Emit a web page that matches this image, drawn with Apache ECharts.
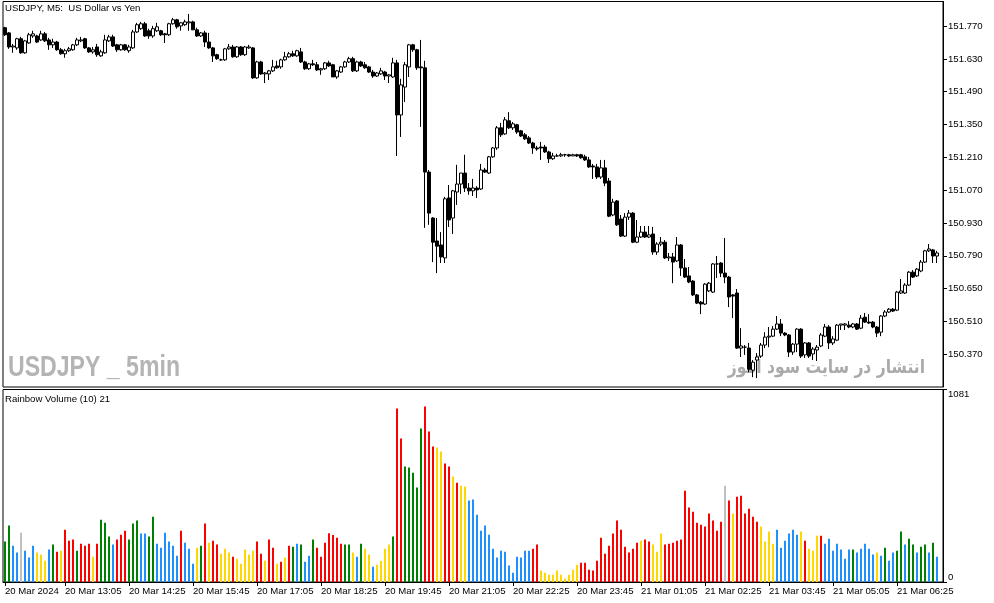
<!DOCTYPE html>
<html>
<head>
<meta charset="utf-8">
<script src="https://cdn.jsdelivr.net/npm/echarts@6/dist/echarts.min.js"></script>
<style>
html,body{margin:0;padding:0;background:#fff;}
#chart{width:994px;height:603px;}
</style>
</head>
<body>
<div id="chart"></div>
<script>
// ---------- DATA ----------
const chartTitle = 'USDJPY, M5:  US Dollar vs Yen';
const indicatorTitle = 'Rainbow Volume (10) 21';
const watermarkText = 'USDJPY _ 5min';
const siteText = 'انتشار در سایت سود آموز';
const startTime = [2024, 2, 20, 11, 50]; // first bar, 5-minute bars
const firstTickLabel = '20 Mar 2024';
const tickLabels = ['20 Mar 13:05','20 Mar 14:25','20 Mar 15:45','20 Mar 17:05','20 Mar 18:25',
  '20 Mar 19:45','20 Mar 21:05','20 Mar 22:25','20 Mar 23:45','21 Mar 01:05','21 Mar 02:25',
  '21 Mar 03:45','21 Mar 05:05','21 Mar 06:25'];

// candles: [open, close, low, high]
const candles = [
[151.763,151.733,151.728,151.767],[151.741,151.681,151.673,151.745],[151.681,151.685,151.656,151.694],
[151.677,151.716,151.669,151.720],[151.716,151.656,151.652,151.724],[151.656,151.707,151.652,151.711],
[151.698,151.733,151.694,151.741],[151.728,151.737,151.720,151.750],[151.728,151.702,151.698,151.733],
[151.711,151.737,151.707,151.750],[151.737,151.707,151.702,151.745],[151.711,151.690,151.669,151.720],
[151.690,151.702,151.677,151.716],[151.702,151.669,151.665,151.707],[151.669,151.652,151.648,151.677],
[151.652,151.665,151.635,151.673],[151.665,151.673,151.660,151.681],[151.669,151.690,151.665,151.694],
[151.690,151.711,151.685,151.720],[151.707,151.711,151.702,151.724],[151.716,151.677,151.673,151.720],
[151.677,151.660,151.656,151.681],[151.660,151.669,151.652,151.681],[151.681,151.648,151.639,151.694],
[151.643,151.660,151.639,151.669],[151.656,151.711,151.652,151.733],[151.707,151.724,151.702,151.733],
[151.724,151.685,151.681,151.733],[151.690,151.669,151.660,151.694],[151.669,151.690,151.665,151.694],
[151.690,151.669,151.665,151.694],[151.665,151.681,151.656,151.690],[151.677,151.745,151.673,151.754],
[151.745,151.776,151.741,151.784],[151.759,151.780,151.754,151.788],[151.780,151.728,151.724,151.788],
[151.750,151.728,151.716,151.759],[151.728,151.759,151.720,151.771],[151.750,151.767,151.745,151.784],
[151.750,151.733,151.728,151.754],[151.737,151.733,151.698,151.741],[151.733,151.780,151.728,151.784],
[151.780,151.797,151.776,151.805],[151.797,151.767,151.759,151.801],[151.771,151.784,151.750,151.788],
[151.776,151.788,151.771,151.797],[151.784,151.788,151.750,151.822],[151.788,151.754,151.754,151.793],
[151.754,151.728,151.724,151.763],[151.728,151.741,151.724,151.745],[151.741,151.702,151.681,151.750],
[151.702,151.677,151.673,151.741],[151.677,151.643,151.617,151.681],[151.648,151.631,151.626,151.652],
[151.626,151.626,151.622,151.631],[151.626,151.673,151.622,151.677],[151.673,151.681,151.669,151.694],
[151.681,151.639,151.635,151.690],[151.639,151.681,151.635,151.685],[151.681,151.648,151.643,151.685],
[151.648,151.681,151.643,151.685],[151.677,151.681,151.673,151.690],[151.677,151.549,151.545,151.681],
[151.549,151.617,151.545,151.622],[151.617,151.566,151.562,151.622],[151.566,151.570,151.527,151.574],
[151.566,151.579,151.540,151.583],[151.579,151.596,151.574,151.626],[151.600,151.592,151.588,151.622],
[151.596,151.626,151.588,151.631],[151.626,151.639,151.622,151.660],[151.639,151.652,151.635,151.660],
[151.652,151.643,151.639,151.665],[151.643,151.665,151.639,151.669],[151.660,151.617,151.613,151.677],
[151.617,151.588,151.583,151.622],[151.588,151.609,151.583,151.613],[151.609,151.605,151.600,151.626],
[151.605,151.583,151.579,151.617],[151.583,151.588,151.562,151.592],[151.588,151.613,151.583,151.617],
[151.613,151.600,151.596,151.622],[151.605,151.553,151.553,151.609],[151.553,151.579,151.545,151.583],
[151.574,151.596,151.570,151.600],[151.596,151.617,151.592,151.622],[151.617,151.631,151.613,151.639],
[151.631,151.579,151.574,151.639],[151.579,151.617,151.574,151.622],[151.617,151.600,151.596,151.622],
[151.605,151.592,151.588,151.617],[151.596,151.574,151.570,151.600],[151.574,151.557,151.549,151.583],
[151.557,151.570,151.553,151.574],[151.566,151.579,151.562,151.592],[151.574,151.557,151.540,151.579],
[151.557,151.562,151.527,151.566],[151.553,151.613,151.549,151.635],[151.613,151.391,151.216,151.626],
[151.391,151.519,151.297,151.545],[151.510,151.605,151.446,151.617],[151.596,151.690,151.553,151.694],
[151.690,151.669,151.660,151.694],[151.669,151.592,151.583,151.673],[151.596,151.592,151.340,151.711],
[151.592,151.147,150.909,151.622],[151.147,150.972,150.922,151.156],[150.951,150.848,150.763,150.955],
[150.853,150.831,150.716,150.951],[150.836,150.785,150.759,150.891],[150.781,151.033,150.759,151.041],
[151.037,150.943,150.913,151.092],[150.951,151.067,150.883,151.071],[151.062,151.096,151.007,151.178],
[151.096,151.143,151.054,151.143],[151.143,151.079,151.062,151.221],[151.079,151.067,151.050,151.100],
[151.067,151.079,151.045,151.118],[151.079,151.071,151.037,151.087],[151.075,151.156,151.071,151.182],
[151.156,151.147,151.143,151.165],[151.143,151.212,151.139,151.216],[151.212,151.250,151.208,151.254],
[151.250,151.336,151.242,151.344],[151.336,151.306,151.297,151.357],[151.310,151.370,151.306,151.382],
[151.366,151.336,151.331,151.403],[151.336,151.353,151.327,151.361],[151.349,151.318,151.310,151.353],
[151.323,151.301,151.297,151.327],[151.306,151.289,151.284,151.314],[151.293,151.271,151.267,151.301],
[151.271,151.250,151.225,151.276],[151.250,151.246,151.238,151.259],[151.254,151.250,151.199,151.276],
[151.254,151.233,151.229,151.263],[151.233,151.204,151.186,151.238],[151.204,151.216,151.199,151.229],
[151.216,151.216,151.212,151.225],[151.216,151.221,151.212,151.229],[151.221,151.221,151.212,151.225],
[151.221,151.216,151.212,151.225],[151.216,151.221,151.216,151.225],[151.221,151.216,151.212,151.225],
[151.221,151.208,151.204,151.225],[151.212,151.199,151.195,151.221],[151.199,151.169,151.165,151.212],
[151.173,151.169,151.118,151.182],[151.169,151.126,151.118,151.182],[151.126,151.165,151.118,151.199],
[151.165,151.100,151.087,151.199],[151.109,150.959,150.955,151.122],[150.964,151.019,150.959,151.033],
[151.024,150.922,150.917,151.028],[150.947,150.874,150.870,150.964],[150.874,150.955,150.870,150.972],
[150.955,150.972,150.943,150.985],[150.972,150.848,150.844,150.977],[150.848,150.870,150.844,150.943],
[150.870,150.891,150.866,150.917],[150.891,150.870,150.866,150.917],[150.870,150.879,150.866,150.917],
[150.883,150.806,150.794,150.913],[150.806,150.840,150.794,150.848],[150.840,150.848,150.831,150.870],
[150.848,150.781,150.776,150.857],[150.781,150.785,150.768,150.802],[150.785,150.763,150.673,150.802],
[150.768,150.836,150.763,150.870],[150.836,150.738,150.704,150.840],[150.738,150.699,150.695,150.776],
[150.704,150.678,150.673,150.742],[150.682,150.623,150.618,150.686],[150.623,150.588,150.584,150.627],
[150.592,150.584,150.541,150.597],[150.584,150.669,150.580,150.673],[150.640,150.673,150.635,150.678],
[150.635,150.755,150.631,150.759],[150.755,150.755,150.695,150.789],[150.759,150.716,150.699,150.763],
[150.716,150.699,150.673,150.866],[150.699,150.614,150.571,150.704],[150.623,150.618,150.524,150.627],
[150.631,150.396,150.392,150.648],[150.396,150.405,150.358,150.481],[150.400,150.400,150.367,150.409],
[150.396,150.306,150.293,150.418],[150.302,150.336,150.272,150.345],[150.345,150.358,150.268,150.375],
[150.362,150.409,150.354,150.418],[150.409,150.443,150.396,150.464],[150.443,150.447,150.400,150.486],
[150.447,150.477,150.443,150.490],[150.477,150.499,150.473,150.533],[150.499,150.460,150.447,150.520],
[150.460,150.452,150.447,150.464],[150.452,150.379,150.358,150.456],[150.379,150.413,150.367,150.418],
[150.413,150.477,150.379,150.481],[150.477,150.362,150.354,150.481],[150.367,150.418,150.354,150.422],
[150.418,150.362,150.354,150.422],[150.371,150.392,150.345,150.400],[150.388,150.400,150.341,150.409],
[150.405,150.452,150.400,150.460],[150.447,150.486,150.443,150.499],[150.486,150.418,150.392,150.494],
[150.418,150.435,150.409,150.447],[150.430,150.494,150.426,150.499],[150.494,150.499,150.473,150.499],
[150.494,150.499,150.473,150.503],[150.494,150.486,150.481,150.511],[150.486,150.499,150.481,150.503],
[150.499,150.477,150.473,150.503],[150.481,150.524,150.477,150.537],[150.528,150.507,150.503,150.546],
[150.507,150.503,150.499,150.541],[150.507,150.486,150.481,150.511],[150.486,150.460,150.443,150.490],
[150.464,150.533,150.447,150.537],[150.533,150.550,150.528,150.558],[150.550,150.562,150.546,150.567],
[150.562,150.554,150.550,150.567],[150.558,150.635,150.554,150.640],[150.631,150.640,150.627,150.691],
[150.631,150.665,150.627,150.673],[150.665,150.720,150.661,150.725],[150.720,150.699,150.695,150.729],
[150.704,150.733,150.699,150.738],[150.725,150.763,150.720,150.772],[150.763,150.811,150.759,150.815],
[150.811,150.819,150.806,150.840],[150.815,150.789,150.759,150.819],[150.789,150.802,150.759,150.811]
];

const volumes = [
227,317,204,165,277,176,137,204,165,154,
120,182,210,170,176,294,232,238,176,215,
204,215,142,215,350,333,255,210,238,266,
288,238,328,345,272,272,255,367,215,193,
277,227,204,148,288,221,187,103,193,204,
328,221,232,210,159,187,165,142,131,103,
182,154,176,227,159,120,238,193,103,114,
137,204,198,215,210,114,148,238,193,142,
221,274,264,249,215,210,210,165,142,215,
187,154,86,97,120,187,210,255,974,806,
648,643,614,530,862,985,845,761,755,733,
665,648,592,558,541,536,457,463,378,288,
317,266,187,137,176,170,92,52,142,137,
176,176,187,210,64,52,41,41,64,41,
19,41,69,97,108,108,69,64,120,249,
159,204,272,345,294,198,165,187,221,232,
238,227,210,170,272,210,215,221,232,238,
513,418,395,333,322,311,384,345,288,339,
541,457,384,479,485,384,412,367,339,311,
227,283,215,294,193,232,272,294,266,283,
232,187,176,260,260,215,243,176,215,182,
131,182,182,165,187,215,187,154,165,148,
193,120,165,176,283,210,243,210,165,198,
210,165,221,142
];

// rainbow tier of each volume bar: g, b, y, r, s
const volumeTier = (
'ggbbsbbbyy' + 'ybgryrrrgr' + 'rryrgggbrr' + 'rgggbbggbb' + 'bbbbrbbbyg' +
'ryrryyyryy' + 'yyyrryrryr' + 'yrgbgbbgrr' + 'rrrrrggybg' + 'yybyyyygrr' +
'gggggrrryy' + 'rryryybbbb' + 'bbbbbbbbbb' + 'bbrryyyyyy' + 'yyyyrrrrrr' +
'rrrrrrrrry' + 'rryyyrrrrr' + 'rrrrrrrrrr' + 'sryrrrrrry' + 'yyybbbbbby' +
'ryyyrbbbbb' + 'bbgbbbbbyb' + 'gbbggbggbg' + 'gbgb').split('');

const volumeAxisMax = 1081;
const priceMin = 150.23, priceMax = 151.875, priceStep = 0.14;

// ---------- BUILD ----------
const tierColor = { g: '#008000', b: '#1E90FF', y: '#FFD700', r: '#FF0000', s: '#C0C0C0' };
const MON = ['Jan','Feb','Mar','Apr','May','Jun','Jul','Aug','Sep','Oct','Nov','Dec'];
const t0 = Date.UTC(startTime[0], startTime[1], startTime[2], startTime[3], startTime[4]);
const pad = n => (n < 10 ? '0' : '') + n;
const categories = candles.map((c, i) => {
  const d = new Date(t0 + i * 300000);
  return pad(d.getUTCDate()) + ' ' + MON[d.getUTCMonth()] + ' ' + pad(d.getUTCHours()) + ':' + pad(d.getUTCMinutes());
});
categories.push(''); // right margin slot
const tickSet = new Set(tickLabels);
const showTick = (idx, val) => idx === 0 || tickSet.has(val);

const FONT = '"Liberation Sans", Arial, sans-serif';
const chart = echarts.init(document.getElementById('chart'));
chart.setOption({
  animation: false,
  backgroundColor: '#ffffff',
  title: [
    { text: chartTitle, left: 5, top: 3, padding: 0,
      textStyle: { fontSize: 9.6, fontWeight: 'normal', color: '#000', fontFamily: FONT } },
    { text: indicatorTitle, left: 5, top: 394, padding: 0,
      textStyle: { fontSize: 9.6, fontWeight: 'normal', color: '#000', fontFamily: FONT } }
  ],
  graphic: [
    { type: 'text', x: 8, y: 368, scaleX: 0.77, z: 0, silent: true,
      style: { text: watermarkText, x: 0, y: 0, font: 'bold 30px "Liberation Sans", Arial, sans-serif',
               fill: '#b4b4b4', align: 'left', verticalAlign: 'middle' } },
    { type: 'text', x: 925, y: 368, scaleX: 0.82, z: 0, silent: true,
      style: { text: siteText, x: 0, y: 0, font: 'bold 19px "DejaVu Sans", sans-serif',
               fill: '#aaaaaa', align: 'right', verticalAlign: 'middle' } }
  ],
  grid: [
    { left: 3, right: 51, top: 1.5, height: 385.5, show: true, borderColor: '#000', borderWidth: 1, backgroundColor: 'transparent' },
    { left: 3, right: 51, top: 389.5, height: 192.5, show: true, borderColor: '#000', borderWidth: 1, backgroundColor: 'transparent' }
  ],
  xAxis: [
    { type: 'category', gridIndex: 0, data: categories, boundaryGap: true,
      axisLine: { show: false }, axisTick: { show: false }, axisLabel: { show: false }, splitLine: { show: false } },
    { type: 'category', gridIndex: 1, data: categories, boundaryGap: true,
      axisLine: { show: true, lineStyle: { color: '#000', width: 1 } },
      axisTick: { show: true, alignWithLabel: true, interval: showTick, length: 4, lineStyle: { color: '#000' } },
      axisLabel: { show: true, interval: showTick, align: 'left', margin: 4, color: '#000',
                   fontSize: 9.6, fontFamily: FONT,
                   formatter: (val, idx) => idx === 0 ? firstTickLabel : val },
      splitLine: { show: false } }
  ],
  yAxis: [
    { type: 'value', gridIndex: 0, position: 'right', min: priceMin, max: priceMax, interval: priceStep,
      axisLine: { show: true, lineStyle: { color: '#000', width: 1 } },
      axisTick: { show: true, length: 4, lineStyle: { color: '#000' } },
      axisLabel: { show: true, showMinLabel: false, showMaxLabel: false, margin: 5, color: '#000',
                   fontSize: 9.6, fontFamily: FONT, formatter: v => v.toFixed(3) },
      splitLine: { show: false } },
    { type: 'value', gridIndex: 1, position: 'right', min: 0, max: volumeAxisMax, interval: volumeAxisMax,
      axisLine: { show: true, lineStyle: { color: '#000', width: 1 } },
      axisTick: { show: true, length: 4, lineStyle: { color: '#000' } },
      axisLabel: { show: true, margin: 5, color: '#000', fontSize: 9.6, fontFamily: FONT,
                   formatter: v => String(Math.round(v)),
                   verticalAlignMinLabel: 'bottom', verticalAlignMaxLabel: 'top' },
      splitLine: { show: false } }
  ],
  series: [
    { type: 'candlestick', xAxisIndex: 0, yAxisIndex: 0, data: candles, barWidth: 3, z: 3,
      itemStyle: { color: '#ffffff', color0: '#000000', borderColor: '#000000', borderColor0: '#000000', borderWidth: 1 } },
    { type: 'bar', xAxisIndex: 1, yAxisIndex: 1, barWidth: 2, z: 3,
      data: volumes.map((v, i) => ({ value: v, itemStyle: { color: tierColor[volumeTier[i]] } })) }
  ]
});
</script>
</body>
</html>
